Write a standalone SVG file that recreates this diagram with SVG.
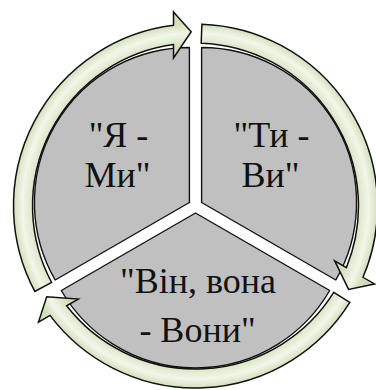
<svg xmlns="http://www.w3.org/2000/svg" width="376" height="390" viewBox="0 0 376 390">
  <defs>
    <style>
      .sector { fill: #c0c0c0; stroke: #111; stroke-width: 1.4; stroke-linejoin: round; }
      .hl { stroke: #ffffff; stroke-width: 6; fill: none; opacity: 0.95; }
      .arrow { fill: url(#ringGrad); stroke: #111; stroke-width: 1.5; stroke-linejoin: miter; }
      .lbl { font-family: "Liberation Serif", "Times New Roman", serif; font-size: 36px; fill: #111; text-anchor: middle; }
    </style>
    <radialGradient id="ringGrad" gradientUnits="userSpaceOnUse" cx="195.5" cy="206" r="200">
      <stop offset="0.74" stop-color="#c9d8ae"/>
      <stop offset="0.80" stop-color="#d3e0bc"/>
      <stop offset="0.865" stop-color="#f2f7ea"/>
      <stop offset="0.91" stop-color="#d3e0bc"/>
      <stop offset="1" stop-color="#c9d8ae"/>
    </radialGradient>
    <filter id="soft" x="-50%" y="-50%" width="200%" height="200%">
      <feGaussianBlur stdDeviation="2.2"/>
    </filter>
    <clipPath id="clipL"><path d="M189.4 202.5 L55.2 280 A155 155 0 0 1 189.4 47.5 Z"/></clipPath>
    <clipPath id="clipR"><path d="M201.6 202.5 L201.6 47.5 A155 155 0 0 1 335.8 280 Z"/></clipPath>
    <path id="seg" d="M34.8 291.4 A182 182 0 0 1 173.5 25.3 L173.5 12 L191.2 31.7 L173.5 58 L173.5 44.5 A163 163 0 0 0 51.6 282.5 Z"/>
  </defs>

  <g id="node-ya-my">
    <path class="sector" d="M189.4 202.5 L55.2 280 A155 155 0 0 1 189.4 47.5 Z"/>
    <g clip-path="url(#clipL)">
      <line class="hl" x1="179" y1="45" x2="179" y2="196" filter="url(#soft)"/>
    </g>
    <text class="lbl" x="118.5" y="147.3">"Я -</text>
    <text class="lbl" x="117.5" y="187.3">Ми"</text>
  </g>

  <g id="node-ty-vy">
    <path class="sector" d="M201.6 202.5 L201.6 47.5 A155 155 0 0 1 335.8 280 Z"/>
    <g clip-path="url(#clipR)">
      <line class="hl" x1="210" y1="45" x2="210" y2="198" filter="url(#soft)"/>
    </g>
    <text class="lbl" x="271.5" y="147.3">"Ти -</text>
    <text class="lbl" x="270.5" y="187.3">Ви"</text>
  </g>

  <g id="node-vin-vona-vony">
    <path class="sector" d="M195.5 213 L329.7 290.5 A155 155 0 0 1 61.3 290.5 Z"/>
    <text class="lbl" x="198" y="293.3">"Він, вона</text>
    <text class="lbl" x="197.5" y="342.3">- Вони"</text>
  </g>

  <g id="connectors">
    <use href="#seg" class="arrow"/>
    <use href="#seg" class="arrow" transform="rotate(120 195.5 206)"/>
    <use href="#seg" class="arrow" transform="rotate(240 195.5 206)"/>
  </g>
</svg>
